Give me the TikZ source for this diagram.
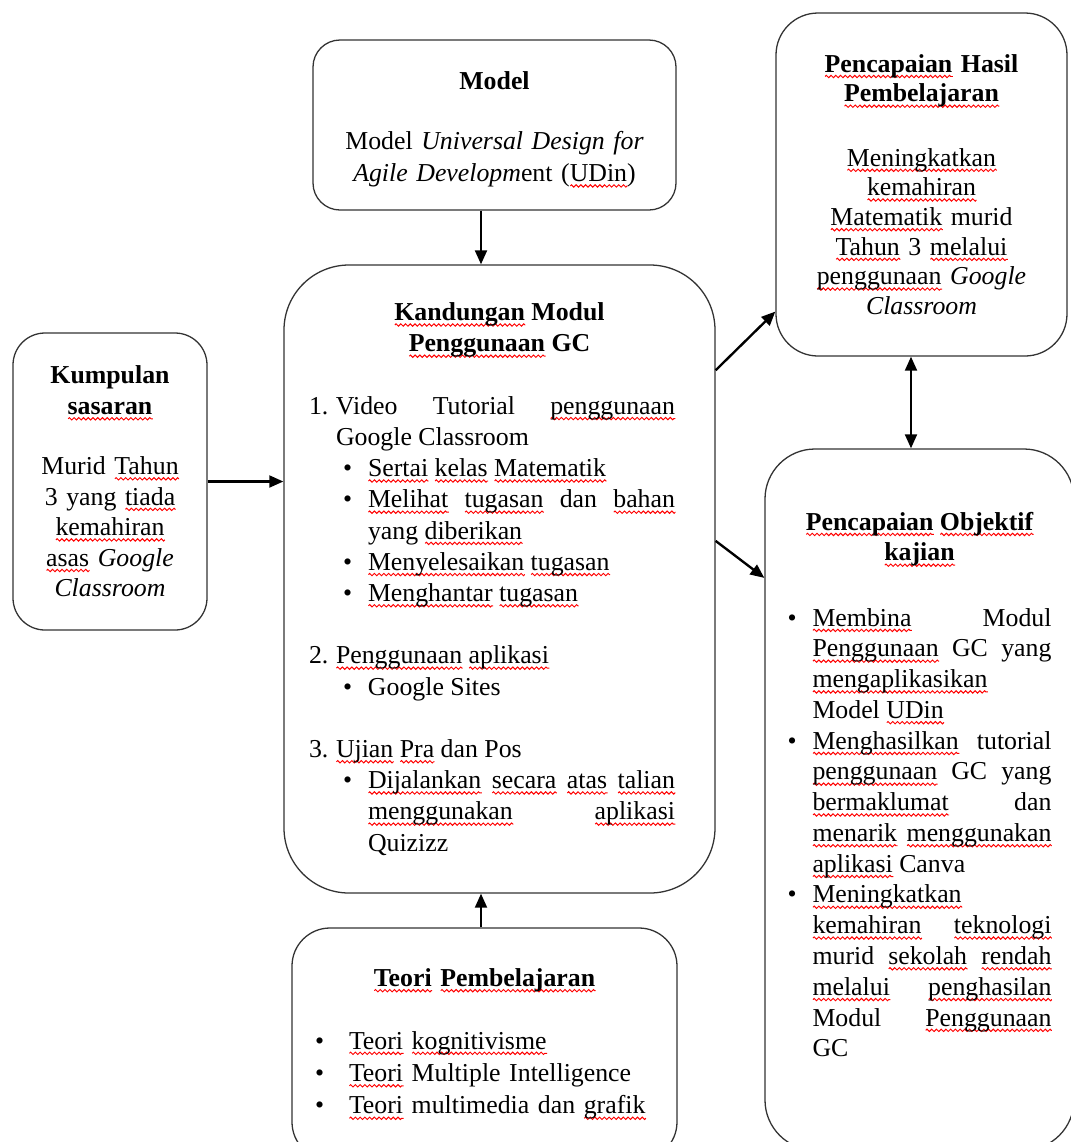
\documentclass[tikz,border=0pt]{standalone}
\usepackage{fontspec}
\setmainfont{Liberation Serif}
\usetikzlibrary{arrows.meta, decorations.pathmorphing}

\newdimen\px \px=0.4648pt
\newdimen\sqw
\newsavebox\sqbox
\newcommand\sq[1]{\leavevmode\sbox\sqbox{#1}\sqw=\wd\sqbox\rlap{\smash{\tikz[baseline=0pt]\draw[red, sharp corners, line width=0.45pt, decorate, decoration={zigzag, segment length=2.2pt, amplitude=0.55pt}] (0pt,-2pt) -- (\sqw,-2pt);}}\usebox\sqbox}
\newcommand\nitem[2]{\par\noindent\hangindent=27\px\hangafter=1\makebox[27\px][l]{#1}#2\par}
\newcommand\bitem[1]{\par\noindent\hangindent=59\px\hangafter=1\hspace*{34\px}\makebox[25\px][l]{\textbullet}#1\par}
\newcommand\oitem[1]{\par\noindent\hangindent=25\px\hangafter=1\makebox[25\px][l]{\textbullet}#1\par}
\newcommand\titem[1]{\par\noindent\makebox[34\px][l]{\textbullet}#1\par}

\begin{document}
\begin{tikzpicture}[
    x=0.4648pt, y=-0.4648pt,
    box/.style={draw=black!80, line width=0.6pt, align=center, inner sep=0pt},
    arrow/.style={-{Triangle[length=6.5pt,width=5.5pt]}, line width=1.1pt},
    twoway/.style={{Triangle[length=6.5pt,width=5.5pt]}-{Triangle[length=6.5pt,width=5.5pt]}, line width=1.1pt}
]
    \useasboundingbox (0,0) rectangle (1070,1142);

    \node[box, rounded corners=27\px, minimum width=363\px, minimum height=170\px, text width=330\px,
          font={\fontsize{12}{14.8}\selectfont}] (model) at (494.5,125)
        {{\bfseries Model\rule{0pt}{12.5pt}\par}\vspace{13.1pt}
         Model \textit{Universal Design for}\par \textit{Agile Developm}ent (\sq{UDin})\par};

    \node[box, rounded corners=42\px, minimum width=291\px, minimum height=343\px, text width=260\px,
          font={\fontsize{12}{13.8}\selectfont}] (hasil) at (921.5,184.5)
        {\textbf{\sq{Pencapaian} Hasil}\\ \textbf{\sq{Pembelajaran}}\\[16pt]
         \sq{Meningkatkan}\\ \sq{kemahiran}\\ \sq{Matematik} murid\\ \sq{Tahun} 3 \sq{melalui}\\
         \sq{penggunaan} \textit{Google}\\ \textit{Classroom}};

    \node[box, rounded corners=32\px, minimum width=194\px, minimum height=297\px, text width=175\px,
          font={\fontsize{12}{14.2}\selectfont}] (kump) at (110,481.5)
        {\textbf{Kumpulan}\\ \textbf{\sq{sasaran}}\\[13.7pt]
         Murid \sq{Tahun}\\ 3 yang \sq{tiada}\\ \sq{kemahiran}\\ \sq{asas} \textit{Google}\\ \textit{Classroom}};

    \node[box, rounded corners=65\px, minimum width=431\px, minimum height=628\px, text width=366\px,
          align=justify, font={\fontsize{12}{14.5}\selectfont\tolerance=10000\hbadness=10000}] (kand) at (499.5,579)
        {{\centering\bfseries \sq{Kandungan} Modul\par \sq{Penggunaan} GC\par}
         \leftskip=-7.5\px \rightskip=7.5\px
         \vspace{\baselineskip}
         \nitem{1.}{Video Tutorial \sq{penggunaan}\linebreak Google Classroom}
         \bitem{\sq{Sertai} \sq{kelas} \sq{Matematik}}
         \bitem{\sq{Melihat} \sq{tugasan} dan \sq{bahan}\linebreak yang \sq{diberikan}}
         \bitem{\sq{Menyelesaikan} \sq{tugasan}}
         \bitem{\sq{Menghantar} \sq{tugasan}}
         \vspace{\baselineskip}
         \nitem{2.}{\sq{Penggunaan} \sq{aplikasi}}
         \bitem{Google Sites}
         \vspace{\baselineskip}
         \nitem{3.}{\sq{Ujian} \sq{Pra} dan Pos}
         \bitem{\sq{Dijalankan} \sq{secara} \sq{atas} \sq{talian}\linebreak \sq{menggunakan} \sq{aplikasi}\linebreak Quizizz}};

    \node[box, rounded corners=50\px, minimum width=309\px, minimum height=701\px, text width=264\px,
          align=justify, font={\fontsize{12}{14.3}\selectfont\tolerance=10000\hbadness=10000}] (objk) at (919.5,799.5)
        {{\centering\bfseries \sq{Pencapaian} \sq{Objektif}\par \sq{kajian}\par}
         \vspace{16pt}
         \oitem{\sq{Membina} Modul\linebreak \sq{Penggunaan} GC yang\linebreak \sq{mengaplikasikan}\linebreak Model \sq{UDin}}
         \oitem{\sq{Menghasilkan} tutorial\linebreak \sq{penggunaan} GC yang\linebreak \sq{bermaklumat} dan\linebreak
                \sq{menarik} \sq{menggunakan}\linebreak \sq{aplikasi} Canva}
         \oitem{\sq{Meningkatkan}\linebreak \sq{kemahiran} \sq{teknologi}\linebreak murid \sq{sekolah} \sq{rendah}\linebreak
                \sq{melalui} \sq{penghasilan}\linebreak Modul \sq{Penggunaan}\linebreak GC}
         \kern30\px};

    \node[box, rounded corners=38\px, minimum width=385\px, minimum height=232\px, text width=339\px,
          align=left, font={\fontsize{12}{15.1}\selectfont}] (teori) at (484.5,1044)
        {{\centering\bfseries \sq{Teori} \sq{Pembelajaran}\par}
         \vspace{14pt}
         \titem{\sq{Teori} \sq{kognitivisme}}
         \titem{\sq{Teori} Multiple Intelligence}
         \titem{\sq{Teori} multimedia dan \sq{grafik}}};

    \coordinate (midx) at (481,0);
    \coordinate (midr) at (911,0);

    \draw[arrow] (model.south -| midx) -- (kand.north -| midx);
    \draw[arrow] (teori.north -| midx) -- (kand.south -| midx);
    \draw[arrow] (kump.east) -- (kump.east -| kand.west);
    \draw[arrow] (kand.44) -- (hasil.221);
    \draw[arrow] (kand.10) -- (objk.125);
    \draw[twoway] (hasil.south -| midr) -- (objk.north -| midr);
\end{tikzpicture}
\end{document}
